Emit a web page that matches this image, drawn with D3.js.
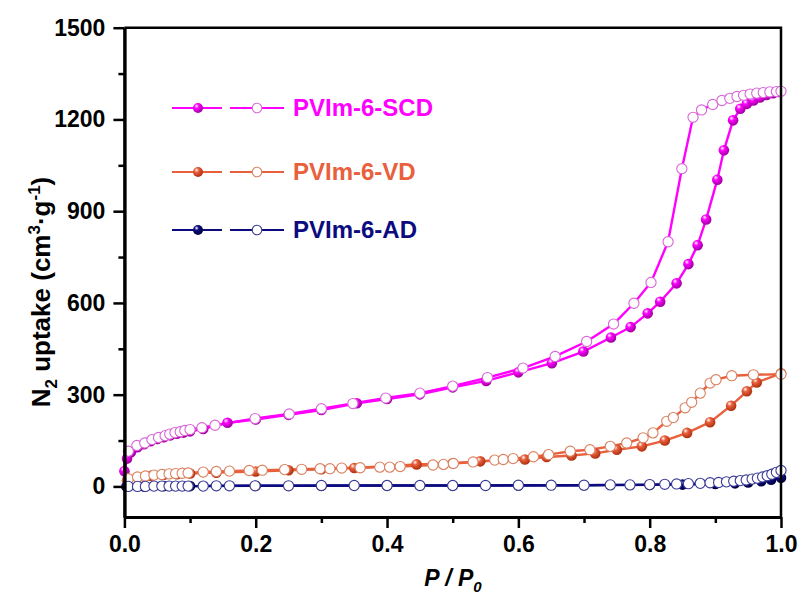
<!DOCTYPE html>
<html lang="en">
<head>
<meta charset="utf-8">
<script src="https://d3js.org/d3.v7.min.js"></script>
<style>
  body { margin: 0; background: #fff; }
  text { font-family: Arial, "Liberation Sans", sans-serif; font-weight: bold; }
</style>
</head>
<body>
<div id="graph"></div>
<script>
// series names
var names = ["PVIm-6-SCD", "PVIm-6-VD", "PVIm-6-AD"];

// PVIm-6-SCD adsorption (filled) / desorption (open)
var scdAdsX = [0.0, 0.004, 0.01, 0.02, 0.03, 0.04, 0.05, 0.06, 0.07, 0.08, 0.09, 0.10, 0.12, 0.157, 0.2, 0.25, 0.3, 0.354, 0.4, 0.45, 0.5, 0.551, 0.6, 0.651, 0.699, 0.741, 0.771, 0.797, 0.816, 0.841, 0.859, 0.873, 0.886, 0.903, 0.913, 0.927, 0.938, 0.948, 0.958, 0.968, 0.978, 0.988, 0.996];
var scdAdsY = [50, 91, 112, 128, 138, 148, 155, 161, 167, 172, 176, 180, 188, 208, 219, 234, 250, 272, 286, 301, 324, 345, 373, 403, 441, 487, 521, 566, 604, 664, 727, 789, 873, 1003, 1099, 1197, 1235, 1251, 1262, 1272, 1280, 1286, 1290];
var scdDesX = [0.006, 0.019, 0.031, 0.042, 0.052, 0.062, 0.069, 0.077, 0.085, 0.092, 0.1, 0.118, 0.138, 0.199, 0.251, 0.3, 0.348, 0.398, 0.45, 0.5, 0.553, 0.607, 0.656, 0.704, 0.745, 0.776, 0.802, 0.828, 0.849, 0.866, 0.879, 0.896, 0.91, 0.922, 0.933, 0.943, 0.953, 0.963, 0.973, 0.983, 0.993, 1.0];
var scdDesY = [115, 134, 142, 153, 160, 166, 171, 176, 179, 183, 186, 192, 200, 222, 237, 254, 271, 289, 305, 328, 356, 387, 425, 474, 531, 599, 667, 800, 1039, 1207, 1231, 1249, 1262, 1269, 1275, 1279, 1283, 1286, 1288, 1290, 1291, 1292];

// PVIm-6-VD
var vdAdsX = [0.004, 0.02, 0.04, 0.06, 0.08, 0.1, 0.14, 0.2, 0.25, 0.3, 0.35, 0.445, 0.5, 0.542, 0.61, 0.643, 0.681, 0.717, 0.75, 0.788, 0.823, 0.857, 0.892, 0.924, 0.948, 0.963, 1.0];
var vdAdsY = [20, 30, 35, 38, 40, 42, 45, 49, 53, 56, 60, 72, 76, 82, 88, 96, 101, 108, 120, 131, 150, 175, 210, 264, 311, 340, 370];
var vdDesX = [0.006, 0.02, 0.032, 0.045, 0.057, 0.068, 0.078, 0.088, 0.097, 0.12, 0.14, 0.16, 0.19, 0.21, 0.244, 0.27, 0.298, 0.313, 0.331, 0.359, 0.389, 0.404, 0.42, 0.47, 0.486, 0.501, 0.531, 0.564, 0.577, 0.592, 0.623, 0.646, 0.679, 0.709, 0.74, 0.765, 0.79, 0.805, 0.826, 0.836, 0.854, 0.864, 0.877, 0.892, 0.901, 0.925, 0.958, 1.0];
var vdDesY = [25, 31, 34, 37, 39, 41, 42, 43, 44, 47, 49, 50, 52, 53, 55, 56, 58, 58, 60, 61, 63, 63, 65, 70, 72, 75, 80, 86, 88, 91, 97, 104, 115, 120, 131, 142, 159, 175, 213, 225, 257, 275, 305, 338, 349, 362, 365, 367];

// PVIm-6-AD
var adAdsX = [0.003, 0.03, 0.06, 0.1, 0.2, 0.3, 0.4, 0.5, 0.6, 0.7, 0.8, 0.85, 0.9, 0.93, 0.95, 0.97, 0.985, 1.0];
var adAdsY = [0, 0, 1, 1, 2, 2, 3, 3, 3, 4, 5, 6, 8, 10, 13, 17, 22, 28];
var adDesX = [0.006, 0.02, 0.032, 0.045, 0.057, 0.068, 0.078, 0.088, 0.097, 0.12, 0.14, 0.16, 0.199, 0.25, 0.3, 0.35, 0.4, 0.45, 0.5, 0.55, 0.6, 0.65, 0.7, 0.74, 0.77, 0.8, 0.823, 0.841, 0.859, 0.877, 0.892, 0.905, 0.917, 0.928, 0.938, 0.947, 0.956, 0.964, 0.972, 0.979, 0.986, 0.993, 1.0];
var adDesY = [0, 0, 0, 1, 1, 1, 1, 1, 1, 1, 2, 2, 2, 2, 3, 3, 3, 3, 3, 3, 4, 4, 4, 5, 5, 6, 7, 8, 9, 10, 12, 13, 15, 17, 19, 21, 24, 27, 31, 35, 40, 46, 52];

var xMajor = [0, 0.2, 0.4, 0.6, 0.8, 1.0];
var xMinor = [0.1, 0.3, 0.5, 0.7, 0.9];
var yMajor = [0, 300, 600, 900, 1200, 1500];
var yMinor = [150, 450, 750, 1050, 1350];

var W = 805, H = 597;
var margin = {left: 124.4, right: 781, top: 27.7, bottom: 517};

var svg = d3.select("#graph").append("svg")
  .attr("width", W).attr("height", H);

var x = d3.scaleLinear().domain([0, 1]).range([margin.left, margin.right]);
var y = d3.scaleLinear().domain([-100, 1500]).range([margin.bottom, margin.top]);

var colors = ["#ff00ff", "#e8603c", "#0c0c80"];
var openStroke = ["#d866d8", "#d9805f", "#3a3a95"];
var dark = ["#a000a0", "#b03010", "#000040"];

var series = [
  {ads: d3.zip(scdAdsX, scdAdsY), des: d3.zip(scdDesX, scdDesY)},
  {ads: d3.zip(vdAdsX, vdAdsY), des: d3.zip(vdDesX, vdDesY)},
  {ads: d3.zip(adAdsX, adAdsY), des: d3.zip(adDesX, adDesY)}
];

// sphere gradients for the filled markers
var defs = svg.append("defs");
colors.forEach(function(c, i) {
  var g = defs.append("radialGradient").attr("id", "ball" + i)
    .attr("cx", "38%").attr("cy", "35%").attr("r", "65%")
    .attr("fx", "35%").attr("fy", "30%");
  g.append("stop").attr("offset", "0%").attr("stop-color", "#fff");
  g.append("stop").attr("offset", "35%").attr("stop-color", c);
  g.append("stop").attr("offset", "100%").attr("stop-color", dark[i]);
});

var line = d3.line().x(function(d) { return x(d[0]); }).y(function(d) { return y(d[1]); });

var plot = svg.append("g");

// lines first
series.forEach(function(s, i) {
  plot.append("path").datum(s.ads).attr("d", line)
    .attr("fill", "none").attr("stroke", colors[i]).attr("stroke-width", 2.4);
  plot.append("path").datum(s.des).attr("d", line)
    .attr("fill", "none").attr("stroke", colors[i]).attr("stroke-width", 2.4);
});

// filled (adsorption) markers
series.forEach(function(s, i) {
  plot.append("g").selectAll("circle").data(s.ads).enter().append("circle")
    .attr("cx", function(d) { return x(d[0]); })
    .attr("cy", function(d) { return y(d[1]); })
    .attr("r", 5.3)
    .attr("fill", "url(#ball" + i + ")");
});

// open (desorption) markers
series.forEach(function(s, i) {
  plot.append("g").selectAll("circle").data(s.des).enter().append("circle")
    .attr("cx", function(d) { return x(d[0]); })
    .attr("cy", function(d) { return y(d[1]); })
    .attr("r", 5.1)
    .attr("fill", "#fff")
    .attr("stroke", openStroke[i]).attr("stroke-width", 1.1);
});

// frame top & right
svg.append("path")
  .attr("d", "M" + margin.left + "," + margin.top + "H" + margin.right + "V" + margin.bottom)
  .attr("fill", "none").attr("stroke", "#000").attr("stroke-width", 2.5);

// axes
function styleAxis(g) {
  g.select(".domain").attr("stroke-width", 3);
  g.selectAll(".tick line").attr("stroke-width", 2.5);
  g.selectAll("text").attr("font-size", 23).attr("fill", "#000")
    .style("font-family", "Arial, 'Liberation Sans', sans-serif").style("font-weight", "bold");
}

var xAx = svg.append("g").attr("transform", "translate(0," + margin.bottom + ")")
  .call(d3.axisBottom(x).tickValues(xMajor).tickSize(11).tickSizeOuter(0).tickPadding(8)
    .tickFormat(d3.format(".1f")));
styleAxis(xAx);
var xAxMinor = svg.append("g").attr("transform", "translate(0," + margin.bottom + ")")
  .call(d3.axisBottom(x).tickValues(xMinor).tickSize(6).tickSizeOuter(0).tickFormat(""));
styleAxis(xAxMinor);

var yAx = svg.append("g").attr("transform", "translate(" + margin.left + ",0)")
  .call(d3.axisLeft(y).tickValues(yMajor).tickSize(11).tickSizeOuter(0).tickPadding(8)
    .tickFormat(d3.format("d")));
styleAxis(yAx);
var yAxMinor = svg.append("g").attr("transform", "translate(" + margin.left + ",0)")
  .call(d3.axisLeft(y).tickValues(yMinor).tickSize(6).tickSizeOuter(0).tickFormat(""));
styleAxis(yAxMinor);

// axis titles
var xt = svg.append("text").attr("x", 453).attr("y", 586)
  .attr("text-anchor", "middle").attr("font-size", 23).attr("font-style", "italic");
xt.append("tspan").text("P / P");
xt.append("tspan").attr("dy", 6).attr("font-size", 15).text("0");

var yt = svg.append("text")
  .attr("transform", "translate(50,292) rotate(-90)")
  .attr("text-anchor", "middle").attr("font-size", 26);
yt.append("tspan").text("N");
yt.append("tspan").attr("dy", 7).attr("font-size", 17).text("2");
yt.append("tspan").attr("dy", -7).text(" uptake (cm");
yt.append("tspan").attr("dy", -10).attr("font-size", 17).text("3");
yt.append("tspan").attr("dy", 10).text("\u00b7g");
yt.append("tspan").attr("dy", -10).attr("font-size", 17).text("-1");
yt.append("tspan").attr("dy", 10).text(")");

// legend
var legY = [108, 172, 230];
var leg = svg.append("g");
names.forEach(function(n, i) {
  var g = leg.append("g").attr("transform", "translate(0," + legY[i] + ")");
  g.append("line").attr("x1", 172).attr("x2", 222).attr("y1", 0).attr("y2", 0)
    .attr("stroke", colors[i]).attr("stroke-width", 2.2);
  g.append("line").attr("x1", 230).attr("x2", 284).attr("y1", 0).attr("y2", 0)
    .attr("stroke", colors[i]).attr("stroke-width", 2.2);
  g.append("circle").attr("cx", 198).attr("cy", 0).attr("r", 5).attr("fill", "url(#ball" + i + ")");
  g.append("circle").attr("cx", 257).attr("cy", 0).attr("r", 4.8).attr("fill", "#fff")
    .attr("stroke", openStroke[i]).attr("stroke-width", 1.1);
  g.append("text").attr("x", 293).attr("y", 8).attr("font-size", 24)
    .attr("fill", colors[i]).text(n);
});
</script>
</body>
</html>
